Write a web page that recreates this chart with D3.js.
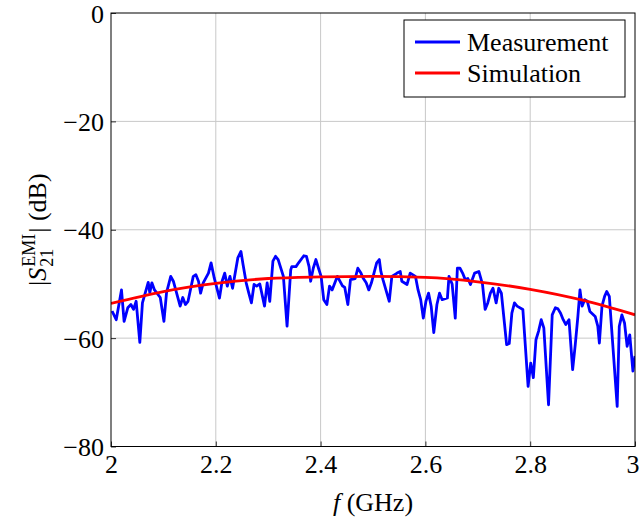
<!DOCTYPE html>
<html>
<head>
<meta charset="utf-8">
<script src="https://cdn.jsdelivr.net/npm/d3@7"></script>
<style>
  body { margin: 0; background: #fff; }
  .grid line { stroke: #c8c8c8; stroke-width: 1; }
</style>
</head>
<body>
<svg id="chart" width="640" height="521"></svg>
<script>
// frequency (GHz) / |S21| (dB)
const measFreq = [2.002, 2.010, 2.020, 2.025, 2.032, 2.038, 2.043, 2.048, 2.055, 2.060,
    2.071, 2.074, 2.078, 2.083, 2.094, 2.101, 2.106, 2.114, 2.119, 2.132,
    2.137, 2.142, 2.147, 2.157, 2.162, 2.167, 2.171, 2.176, 2.186, 2.191,
    2.197, 2.207, 2.212, 2.217, 2.222, 2.227, 2.232, 2.242, 2.248, 2.252,
    2.258, 2.263, 2.268, 2.273, 2.278, 2.284, 2.293, 2.298, 2.303, 2.309,
    2.314, 2.319, 2.329, 2.336, 2.343, 2.345, 2.353, 2.358, 2.368, 2.373,
    2.378, 2.381, 2.386, 2.391, 2.396, 2.401, 2.406, 2.412, 2.417, 2.422,
    2.432, 2.442, 2.446, 2.452, 2.457, 2.466, 2.471, 2.477, 2.481, 2.487,
    2.492, 2.497, 2.507, 2.512, 2.515, 2.519, 2.531, 2.536, 2.546, 2.552,
    2.555, 2.565, 2.571, 2.581, 2.586, 2.591, 2.596, 2.601, 2.606, 2.611,
    2.616, 2.622, 2.627, 2.632, 2.642, 2.645, 2.651, 2.657, 2.661, 2.666,
    2.671, 2.676, 2.681, 2.686, 2.694, 2.702, 2.709, 2.714, 2.719, 2.724,
    2.729, 2.735, 2.740, 2.745, 2.755, 2.760, 2.765, 2.770, 2.775, 2.786,
    2.796, 2.801, 2.806, 2.811, 2.816, 2.821, 2.826, 2.835, 2.842, 2.848,
    2.853, 2.858, 2.863, 2.868, 2.874, 2.881, 2.886, 2.891, 2.895, 2.899,
    2.904, 2.909, 2.914, 2.924, 2.929, 2.932, 2.937, 2.942, 2.946, 2.951,
    2.966, 2.970, 2.975, 2.980, 2.985, 2.990, 2.996, 3.000];
const measDb = [-55.0, -56.6, -51.1, -56.9, -54.4, -53.8, -54.7, -53.2, -60.8, -53.5,
    -49.7, -51.6, -49.8, -51.1, -52.5, -56.9, -51.6, -48.6, -49.5, -54.1,
    -52.5, -53.8, -53.2, -48.6, -48.3, -49.5, -51.7, -49.8, -48.0, -46.1,
    -48.9, -52.6, -49.5, -48.0, -50.4, -48.6, -50.8, -45.2, -44.0, -46.4,
    -49.8, -51.7, -53.5, -50.1, -50.4, -50.0, -54.1, -49.8, -53.2, -45.8,
    -44.9, -45.5, -48.6, -57.8, -47.4, -46.8, -46.8, -46.1, -44.8, -44.9,
    -46.8, -49.5, -47.1, -45.5, -47.1, -48.6, -52.9, -53.8, -50.4, -51.1,
    -48.6, -50.4, -50.6, -53.8, -49.2, -49.0, -47.1, -48.0, -48.9, -49.8,
    -51.1, -49.8, -46.1, -45.5, -47.7, -49.2, -53.2, -48.6, -48.0, -47.7,
    -49.5, -50.1, -48.0, -48.6, -51.1, -52.9, -56.3, -53.2, -51.7, -54.1,
    -59.0, -53.8, -51.7, -52.9, -52.6, -48.6, -50.0, -56.3, -47.1, -47.1,
    -48.0, -49.2, -49.0, -50.1, -48.0, -47.7, -50.1, -54.7, -53.5, -51.7,
    -50.8, -53.5, -50.8, -51.7, -61.2, -61.0, -55.4, -53.5, -54.1, -54.7,
    -68.9, -64.6, -67.3, -60.3, -58.7, -56.6, -58.1, -72.3, -55.7, -54.4,
    -54.6, -55.4, -56.6, -57.5, -56.6, -65.8, -61.2, -56.0, -51.1, -54.1,
    -52.9, -53.2, -55.1, -56.0, -57.8, -60.9, -54.1, -52.3, -51.4, -52.3,
    -72.6, -57.8, -55.7, -57.2, -61.5, -59.4, -66.1, -63.3];

// simulated curve
const simFreq = [2.0, 2.1, 2.2, 2.3, 2.4, 2.5, 2.6, 2.7, 2.8, 2.9, 3.0];
const simDb = [-53.6, -51.4, -49.9, -49.0, -48.7, -48.6, -48.8, -49.6, -51.0, -53.0, -55.7];

const xTicks = [2, 2.2, 2.4, 2.6, 2.8, 3];
const yTicks = [-80, -60, -40, -20, 0];

const seriesNames = ["Measurement", "Simulation"];
const seriesColors = ["#0000ff", "#ff0000"];

const serif = "'Liberation Serif', 'Times New Roman', Times, 'DejaVu Serif', serif";
const fontSize = "26px";

const margin = {left: 111, right: 5, top: 13, bottom: 74.5};
const width = 640, height = 521;

let svg = d3.select("#chart").attr("font-family", serif);

let x = d3.scaleLinear().domain([2, 3]).range([margin.left, width - margin.right]);
let y = d3.scaleLinear().domain([-80, 0]).range([height - margin.bottom, margin.top]);

// grid
let grid = svg.append("g").attr("class", "grid");
grid.selectAll("line.gx")
    .data(xTicks.slice(1, -1))
    .enter().append("line")
    .attr("x1", d => x(d)).attr("x2", d => x(d))
    .attr("y1", y(-80)).attr("y2", y(0));
grid.selectAll("line.gy")
    .data(yTicks.slice(1, -1))
    .enter().append("line")
    .attr("x1", x(2)).attr("x2", x(3))
    .attr("y1", d => y(d)).attr("y2", d => y(d));

// axes (ticks inside)
let xAxis = d3.axisBottom(x).tickValues(xTicks).tickSizeInner(-5).tickSizeOuter(0)
    .tickFormat(d3.format("~g")).tickPadding(8);
let yAxis = d3.axisLeft(y).tickValues(yTicks).tickSizeInner(-5).tickSizeOuter(0)
    .tickPadding(7);

let gx = svg.append("g").attr("transform", "translate(0," + y(-80) + ")").call(xAxis);
let gy = svg.append("g").attr("transform", "translate(" + x(2) + ",0)").call(yAxis);
[gx, gy].forEach(g => {
    g.attr("font-family", serif).attr("font-size", fontSize);
    g.select(".domain").remove();
    g.selectAll(".tick line").attr("stroke", "#000").attr("stroke-width", 0.8);
});
gx.selectAll(".tick text").attr("dy", "0.71em");
// keep the last label inside the window
gx.selectAll(".tick text").filter(d => d === 3).attr("dx", -2.5);
gy.selectAll(".tick text").attr("dy", "0.35em");

// lines
let line = d3.line().x(d => x(d[0])).y(d => y(d[1]));
svg.append("clipPath").attr("id", "clip").append("rect")
    .attr("x", x(2)).attr("y", y(0)).attr("width", x(3) - x(2)).attr("height", y(-80) - y(0));

svg.append("path")
    .datum(d3.zip(measFreq, measDb))
    .attr("d", line)
    .attr("fill", "none")
    .attr("stroke", seriesColors[0])
    .attr("stroke-width", 2.8)
    .attr("stroke-linejoin", "round")
    .attr("clip-path", "url(#clip)");

svg.append("path")
    .datum(d3.zip(simFreq, simDb))
    .attr("d", line.curve(d3.curveMonotoneX))
    .attr("fill", "none")
    .attr("stroke", seriesColors[1])
    .attr("stroke-width", 2.8)
    .attr("clip-path", "url(#clip)");

// frame
svg.append("rect")
    .attr("x", x(2)).attr("y", y(0))
    .attr("width", x(3) - x(2)).attr("height", y(-80) - y(0))
    .attr("fill", "none").attr("stroke", "#000").attr("stroke-width", 1);

// legend
let legend = svg.append("g").attr("transform", "translate(404,20)");
legend.append("rect")
    .attr("width", 221).attr("height", 77)
    .attr("fill", "#fff").attr("stroke", "#000").attr("stroke-width", 1);
seriesNames.forEach((name, i) => {
    let row = legend.append("g").attr("transform", "translate(0," + (22 + i * 31) + ")");
    row.append("line")
        .attr("x1", 11).attr("x2", 56).attr("y1", 0).attr("y2", 0)
        .attr("stroke", seriesColors[i]).attr("stroke-width", 2.8);
    row.append("text")
        .attr("x", 63).attr("dy", "0.35em")
        .attr("font-size", fontSize)
        .text(name);
});

// x label
let xl = svg.append("text")
    .attr("x", (x(2) + x(3)) / 2).attr("y", 511)
    .attr("text-anchor", "middle")
    .attr("font-size", fontSize);
xl.append("tspan").attr("font-style", "italic").text("f");
xl.append("tspan").text(" (GHz)");

// y label: |S_21^EMI| (dB), built piece by piece in a rotated group
let yl = svg.append("g")
    .attr("transform", "translate(46," + ((y(0) + y(-80)) / 2) + ") rotate(-90)");
let pieces = yl.append("g");
let cx = 0;
let p1 = pieces.append("text").attr("x", cx).attr("font-size", fontSize).text("|");
cx += p1.node().getComputedTextLength();
let p2 = pieces.append("text").attr("x", cx).attr("font-size", fontSize)
    .attr("font-style", "italic").text("S");
cx += p2.node().getComputedTextLength() + 1;
let sup = pieces.append("text").attr("x", cx).attr("y", -11).attr("font-size", "18px").text("EMI");
let sub = pieces.append("text").attr("x", cx).attr("y", 7).attr("font-size", "18px").text("21");
cx += Math.max(sup.node().getComputedTextLength(), sub.node().getComputedTextLength()) + 1;
let p3 = pieces.append("text").attr("x", cx).attr("font-size", fontSize).text("| (dB)");
cx += p3.node().getComputedTextLength();
pieces.attr("transform", "translate(" + (-cx / 2) + ",0)");
</script>
</body>
</html>
